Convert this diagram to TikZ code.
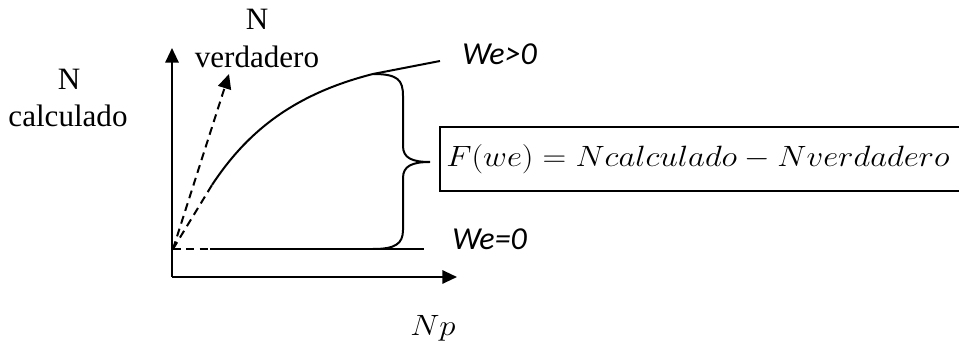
\RequirePackage{fix-cm}
\documentclass[tikz,border=0pt]{standalone}
\usepackage{fontspec}
\usepackage{graphicx}
\setmainfont{Liberation Serif}
\newfontfamily\calibri{Carlito}
\usetikzlibrary{arrows.meta}
\tikzset{
  ln/.style={line width=1.5pt},
  dsh/.style={line width=1.5pt, dash pattern=on 6pt off 4pt},
  arr/.style={-{Triangle[length=11pt,width=10pt]}},
  lbl/.style={inner sep=0pt, font=\fontsize{23.3}{27}\selectfont},
  wlbl/.style={inner sep=0pt, font=\fontsize{24}{28}\selectfont\calibri\itshape},
  mth/.style={inner sep=0pt, font=\fontsize{22}{26}\selectfont},
}
\begin{document}
\begin{tikzpicture}[x=0.75pt,y=-0.75pt]
\useasboundingbox (0,0) rectangle (959,341);
% axes
\coordinate (O) at (172,277);
\coordinate (ytip) at (172,48);
\coordinate (xtip) at (457,277);
\draw[ln,arr] (O) -- (ytip);
\draw[ln,arr] (O) -- (xtip);
% origin of curves
\coordinate (o) at (173,249);
\coordinate (d1) at (210,249);
\coordinate (we0end) at (424,249);
\draw[dsh] (o) -- (d1);
\draw[ln] (d1) -- (we0end);
% dashed true line with arrow
\coordinate (vtip) at (229,74);
\draw[dsh,arr] (o) -- (vtip);
% dashed to curve start
\coordinate (cs) at (212,185);
\draw[dsh] (o) -- (cs);
% curve
\coordinate (bt) at (373,74);
\coordinate (cend) at (440,61);
\draw[ln] (cs) .. controls (245,135) and (290,95) .. (bt);
\draw[ln] (bt) -- (cend);
% brace
\coordinate (bb) at (373,249);
\coordinate (btip) at (430,162);
\draw[ln] (bt) .. controls (398,74) and (403,80) .. (403,96) -- (403,146)
  .. controls (403,158) and (412,162) .. (btip)
  .. controls (412,162) and (403,166) .. (403,178) -- (403,230)
  .. controls (403,244) and (395,249) .. (bb);
% box
\draw[ln] (962,127) -- (440,127) -- (440,191) -- (962,191);
\node[mth, anchor=base west] (eq) at (446,167)
  {\scalebox{1.12}[1]{$F(we) = Ncalculado - Nverdadero$}};
% labels
\node[lbl, anchor=base] (nv1) at (257,30) {N};
\node[lbl, anchor=base] (nv2) at (257,68) {verdadero};
\node[lbl, anchor=base] (nc1) at (69,90) {N};
\node[lbl, anchor=base] (nc2) at (68,127) {calculado};
\node[wlbl, anchor=base west] (wg) at (462,65) {We>0};
\node[wlbl, anchor=base west] (we) at (452,250) {We=0};
\node[mth, anchor=base west] (np) at (410,336)
  {\scalebox{1.12}[1]{$Np$}};
\end{tikzpicture}
\end{document}
